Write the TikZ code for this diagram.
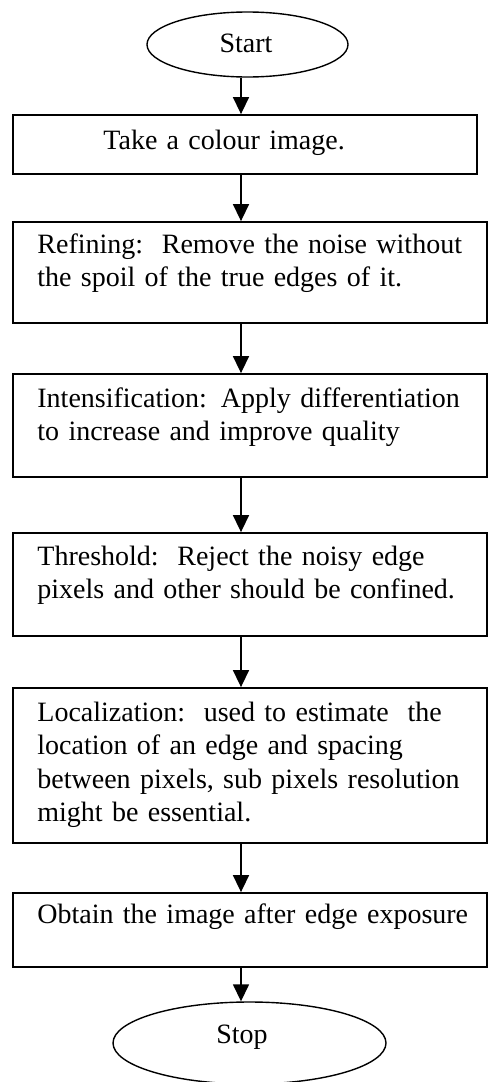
\documentclass[tikz,border=0pt]{standalone}
\usepackage{fontspec}
\setmainfont{Liberation Serif}
\usetikzlibrary{arrows.meta,shapes.geometric}
\begin{document}
\begin{tikzpicture}[x=0.5pt,y=-0.5pt,
  box/.style={draw, line width=0.9pt, rectangle, inner sep=0pt},
  term/.style={draw, ellipse, line width=0.7pt, inner sep=0pt},
  txt/.style={anchor=base west, inner sep=0pt, text width=222pt, align=left,
              font=\fontsize{14}{16.75}\selectfont},
  lbl/.style={anchor=base, inner sep=0pt, font=\fontsize{14}{16.75}\selectfont},
  flow/.style={-{Triangle[width=8pt,length=8.5pt]}, line width=0.75pt}]
\useasboundingbox (0,0) rectangle (489,1082);
\fill[white] (0,0) rectangle (489,1082);

% vertical axis of the flow
\coordinate (ax) at (241,0);

% terminals
\node[term, minimum width=100.5pt, minimum height=32.5pt] (st) at (247.5,44.5) {};
\node[lbl] (stt) at (246,52) {Start};
\node[term, minimum width=136.5pt, minimum height=41pt] (sp) at (249.5,1043) {};
\node[lbl] (spt) at (242,1043) {Stop};

% process boxes
\node[box, minimum width=232pt, minimum height=29.5pt] (b1) at (245,144.5) {};
\node[box, minimum width=237pt, minimum height=50.5pt] (b2) at (250,272.5) {};
\node[box, minimum width=237pt, minimum height=51.5pt] (b3) at (250,425.5) {};
\node[box, minimum width=237pt, minimum height=51.5pt] (b4) at (250,584.5) {};
\node[box, minimum width=237pt, minimum height=77.5pt] (b5) at (250,765.5) {};
\node[box, minimum width=237pt, minimum height=37pt] (b6) at (250,930) {};

% box texts
\node[txt] (t1) at (103,149) {Take a colour image.};
\node[txt] (t2) at (37,253) {Refining:\ \ Remove the noise without\\the spoil of the true edges of it.};
\node[txt] (t3) at (37,407) {Intensification: Apply differentiation\\to increase and improve quality};
\node[txt] (t4) at (37,565) {Threshold:\ \ Reject the noisy edge\\pixels and other should be confined.};
\node[txt] (t5) at (37,721) {Localization:\ \ used to estimate\ \ the\\location of an edge and spacing\\between pixels, sub pixels resolution\\might be essential.};
\node[txt] (t6) at (37,923) {Obtain the image after edge exposure};

% connectors
\draw[flow] (st.south -| ax) -- (b1.north -| ax);
\draw[flow] (b1.south -| ax) -- (b2.north -| ax);
\draw[flow] (b2.south -| ax) -- (b3.north -| ax);
\draw[flow] (b3.south -| ax) -- (b4.north -| ax);
\draw[flow] (b4.south -| ax) -- (b5.north -| ax);
\draw[flow] (b5.south -| ax) -- (b6.north -| ax);
\draw[flow] (b6.south -| ax) -- (sp.north -| ax);
\end{tikzpicture}
\end{document}
